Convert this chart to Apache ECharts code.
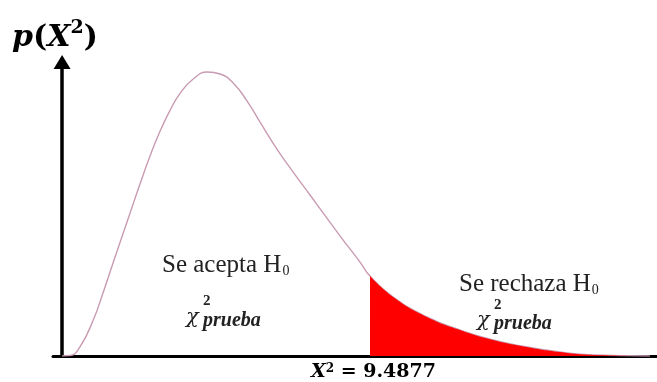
<!DOCTYPE html>
<html>
<head>
<meta charset="utf-8">
<script src="https://cdn.jsdelivr.net/npm/echarts@6/dist/echarts.min.js"></script>
<style>
  html, body { margin: 0; padding: 0; background: #fff; }
  #chart { width: 657px; height: 382px; }
</style>
</head>
<body>
<div id="chart"></div>
<script>
// valor crítico de chi-cuadrado
const CRIT = 9.4877;

// curva de densidad
const curveX = [0, 0.25, 0.55, 0.96, 1.26, 1.57, 2.00, 2.40, 2.71, 3.02, 3.33, 3.64, 4.04, 4.47, 4.87, 5.27, 5.70, 6.10, 6.62, 7.12, 7.64, 8.16, 8.66, 9.18, 9.4877,
  10.20, 11.24, 12.26, 13.28, 14.32, 15.34, 16.36, 18.11];
const curveY = [0, 0.0003, 0.0059, 0.0234, 0.0410, 0.0605, 0.0871, 0.1118, 0.1300, 0.1463, 0.1599, 0.1710, 0.1801, 0.1847, 0.1834, 0.1775, 0.1658, 0.1521, 0.1346, 0.1196, 0.1047, 0.0897, 0.0754, 0.0611, 0.0520,
  0.0384, 0.0254, 0.0169, 0.0104, 0.0059, 0.0026, 0.0007, 0];

const curve = curveX.map((x, i) => [x, curveY[i]]);
const tail = curve.filter(p => p[0] >= CRIT);

const serif = 'Liberation Serif';
const math = 'DejaVu Serif';
const txt = '#222';

const chart = echarts.init(document.getElementById('chart'));

chart.setOption({
  backgroundColor: '#fff',
  animation: false,
  grid: { left: 53, right: 0, top: 62, bottom: 26, containLabel: false },
  xAxis: {
    type: 'value',
    min: -0.28,
    max: 18.33,
    axisLine: { show: true, onZero: true, lineStyle: { color: '#000', width: 3 } },
    axisTick: { show: false },
    axisLabel: { show: false },
    splitLine: { show: false }
  },
  yAxis: {
    type: 'value',
    min: 0,
    max: 0.1912,
    axisLine: {
      show: true,
      onZero: true,
      symbol: ['none', 'triangle'],
      symbolSize: [17, 14],
      lineStyle: { color: '#000', width: 3.5 }
    },
    axisTick: { show: false },
    axisLabel: { show: false },
    splitLine: { show: false }
  },
  series: [
    {
      type: 'line',
      data: curve,
      smooth: 0.5,
      symbol: 'none',
      lineStyle: { color: '#c99bb2', width: 1.4 },
      z: 2
    },
    {
      type: 'line',
      data: tail,
      smooth: 0.5,
      symbol: 'none',
      lineStyle: { width: 0 },
      areaStyle: { color: '#ff0000', opacity: 1 },
      z: 3
    }
  ],
  graphic: [
    // p(X^2)
    { type: 'text', left: 12, top: 19, style: {
      text: '{p|p}{b|(}{x|X}{s|2}{b|)}',
      rich: {
        p: { font: 'italic bold 30px ' + math, fill: '#000', verticalAlign: 'bottom', lineHeight: 34 },
        b: { font: 'bold 30px ' + math, fill: '#000', verticalAlign: 'bottom', lineHeight: 34 },
        x: { font: 'italic bold 30px ' + math, fill: '#000', verticalAlign: 'bottom', lineHeight: 34 },
        s: { font: 'bold 19px ' + math, fill: '#000', verticalAlign: 'top', lineHeight: 20 }
      }
    } },
    // zona de aceptación
    { type: 'text', left: 162, top: 253, style: {
      text: '{t|Se acepta H}{s|0}',
      rich: {
        t: { font: '25px ' + serif, fill: txt, verticalAlign: 'bottom' },
        s: { font: '14px ' + serif, fill: txt, verticalAlign: 'bottom', padding: [0, 0, 0, 1] }
      }
    } },
    { type: 'text', x: 186, y: 318, style: { text: 'χ', font: 'italic 21px ' + math, fill: txt, textVerticalAlign: 'middle' } },
    { type: 'text', x: 203, y: 301, style: { text: '2', font: 'bold 15px ' + serif, fill: txt, textVerticalAlign: 'middle' } },
    { type: 'text', x: 203, y: 321, style: { text: 'prueba', font: 'italic bold 20px ' + serif, fill: txt, textVerticalAlign: 'middle' } },
    // zona de rechazo
    { type: 'text', left: 459, top: 272, style: {
      text: '{t|Se rechaza H}{s|0}',
      rich: {
        t: { font: '25px ' + serif, fill: txt, verticalAlign: 'bottom' },
        s: { font: '14px ' + serif, fill: txt, verticalAlign: 'bottom', padding: [0, 0, 0, 1] }
      }
    } },
    { type: 'text', x: 477, y: 321, style: { text: 'χ', font: 'italic 21px ' + math, fill: txt, textVerticalAlign: 'middle' } },
    { type: 'text', x: 494, y: 305, style: { text: '2', font: 'bold 15px ' + serif, fill: txt, textVerticalAlign: 'middle' } },
    { type: 'text', x: 494, y: 324, style: { text: 'prueba', font: 'italic bold 20px ' + serif, fill: txt, textVerticalAlign: 'middle' } },
    // etiqueta del valor crítico
    { type: 'text', left: 311, top: 363, style: {
      text: '{x|X}{s|2}{t| = ' + CRIT.toFixed(4) + '}',
      rich: {
        x: { font: 'italic bold 19px ' + math, fill: '#000', verticalAlign: 'bottom' },
        s: { font: 'bold 12px ' + math, fill: '#000', verticalAlign: 'top' },
        t: { font: 'bold 19px ' + math, fill: '#000', verticalAlign: 'bottom' }
      }
    } }
  ]
});
</script>
</body>
</html>
